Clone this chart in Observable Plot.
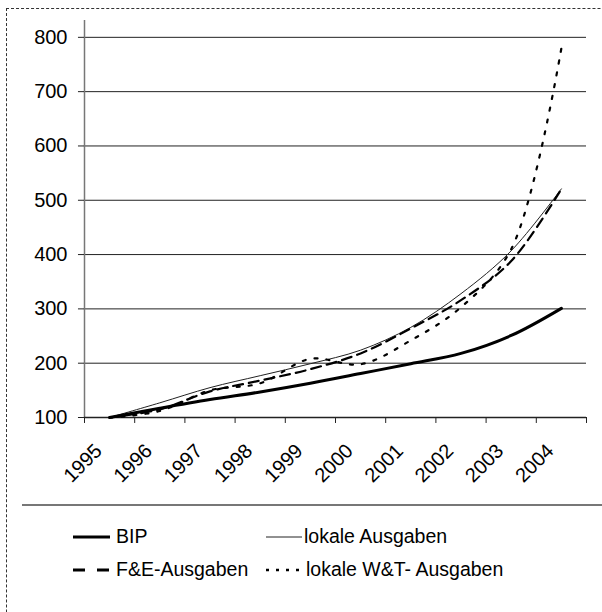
<!DOCTYPE html>
<html>
<head>
<meta charset="utf-8">
<script src="https://cdn.jsdelivr.net/npm/d3@7"></script>
<script src="https://cdn.jsdelivr.net/npm/@observablehq/plot@0.6"></script>
<style>
  html, body { margin: 0; padding: 0; background: #fff; overflow: hidden; }
  body { font-family: "Liberation Sans", Arial, sans-serif; }
  #wrap { position: relative; width: 602px; height: 612px; overflow: hidden; }
  #frame { position: absolute; left: 6px; top: 8px; width: 800px; height: 800px; border: 1px dashed #333; box-sizing: border-box; }
  #chart { position: absolute; left: 0; top: 0; }
  #sep { position: absolute; left: 22px; top: 504px; width: 600px; height: 2px; background: #777; }
  .leg { position: absolute; font-size: 19.5px; color: #000; line-height: 1; }
  .sw { position: absolute; }
</style>
</head>
<body>
<div id="wrap">
  <div id="frame"></div>
  <div id="chart"></div>
  <div id="sep"></div>
  <div id="legend"></div>
</div>
<script>
const years = [1995, 1996, 1997, 1998, 1999, 2000, 2001, 2002, 2003, 2004];
const bip = [100, 117, 133, 147, 163, 181, 199, 218, 251, 301];
const lokaleAusgaben = [100, 127, 155, 177, 199, 224, 266, 328, 407, 521];
const feAusgaben = [100, 115, 148, 168, 189, 218, 264, 316, 388, 521];
const wtAusgaben = [100, 112, 150, 163, 208, 198, 242, 303, 410, 780];
const yTicks = [100, 200, 300, 400, 500, 600, 700, 800];
const seriesNames = ["BIP", "lokale Ausgaben", "F&E-Ausgaben", "lokale W&T- Ausgaben"];

const toRows = (vals) => years.map((y, i) => ({year: y, value: vals[i]}));
const boundaries = d3.range(years.length + 1).map(i => years[0] - 0.5 + i);
const x0 = years[0] - 0.5;
const x1 = years[years.length - 1] + 0.5;
const yTop = 831;
const xTickLen = 0.12;   // in year units (~6px)
const yTickLen = 11;     // in value units (~6px)

const plot = Plot.plot({
  width: 602,
  height: 500,
  marginTop: 20,
  marginBottom: 83,
  marginLeft: 84,
  marginRight: 16,
  style: {fontFamily: '"Liberation Sans", Arial, sans-serif', background: "transparent", overflow: "visible"},
  x: {type: "linear", domain: [x0, x1], axis: null},
  y: {type: "linear", domain: [100, yTop], axis: null},
  marks: [
    Plot.ruleY(yTicks.filter(v => v > 100), {y: d => d, x1: x0, x2: x1, stroke: "#222", strokeWidth: 1}),
    Plot.ruleX([x0], {x: d => d, y1: 100, y2: yTop, stroke: "#777", strokeWidth: 1.5}),
    Plot.ruleY([100], {y: d => d, x1: x0, x2: x1, stroke: "#222", strokeWidth: 1.5}),
    Plot.ruleY(yTicks, {y: d => d, x1: x0 - xTickLen, x2: x0, stroke: "#222", strokeWidth: 1}),
    Plot.text(yTicks, {y: d => d, x: x0, dx: -17, text: d => String(d), textAnchor: "end", fontSize: 20, fill: "#000"}),
    Plot.ruleX(boundaries, {x: d => d, y1: 100 - yTickLen, y2: 100, stroke: "#222", strokeWidth: 1}),
    Plot.text(years, {x: d => d, y: 100, text: d => String(d), rotate: -45, textAnchor: "end", lineAnchor: "middle", dx: -11, dy: 30, fontSize: 20, fill: "#000"}),
    Plot.line(toRows(lokaleAusgaben), {x: "year", y: "value", stroke: "#222", strokeWidth: 1, curve: "catmull-rom"}),
    Plot.line(toRows(feAusgaben), {x: "year", y: "value", stroke: "#000", strokeWidth: 2.2, strokeDasharray: "10,6", curve: "catmull-rom"}),
    Plot.line(toRows(wtAusgaben), {x: "year", y: "value", stroke: "#000", strokeWidth: 2.2, strokeDasharray: "3,9", curve: "catmull-rom"}),
    Plot.line(toRows(bip), {x: "year", y: "value", stroke: "#000", strokeWidth: 3, curve: "catmull-rom"})
  ]
});
document.getElementById("chart").appendChild(plot);

// legend
const legend = document.getElementById("legend");
const items = [
  {name: seriesNames[0], x: 73, tx: 116, y: 537, w: 37, sw: 3, dash: null, color: "#000"},
  {name: seriesNames[1], x: 266, tx: 304, y: 537, w: 36, sw: 1, dash: null, color: "#222"},
  {name: seriesNames[2], x: 73, tx: 116, y: 570, w: 37, sw: 3, dash: "12,12", color: "#000"},
  {name: seriesNames[3], x: 266, tx: 306, y: 570, w: 38, sw: 2.5, dash: "3,7", color: "#000"}
];
for (const it of items) {
  const s = document.createElementNS("http://www.w3.org/2000/svg", "svg");
  s.setAttribute("class", "sw");
  s.setAttribute("width", it.w);
  s.setAttribute("height", 10);
  s.style.left = it.x + "px";
  s.style.top = (it.y - 5) + "px";
  const l = document.createElementNS("http://www.w3.org/2000/svg", "line");
  l.setAttribute("x1", 0); l.setAttribute("x2", it.w);
  l.setAttribute("y1", 5); l.setAttribute("y2", 5);
  l.setAttribute("stroke", it.color);
  l.setAttribute("stroke-width", it.sw);
  if (it.dash) l.setAttribute("stroke-dasharray", it.dash);
  s.appendChild(l);
  legend.appendChild(s);
  const t = document.createElement("div");
  t.className = "leg";
  t.textContent = it.name;
  t.style.left = it.tx + "px";
  t.style.top = (it.y - 10) + "px";
  legend.appendChild(t);
}
</script>
</body>
</html>
